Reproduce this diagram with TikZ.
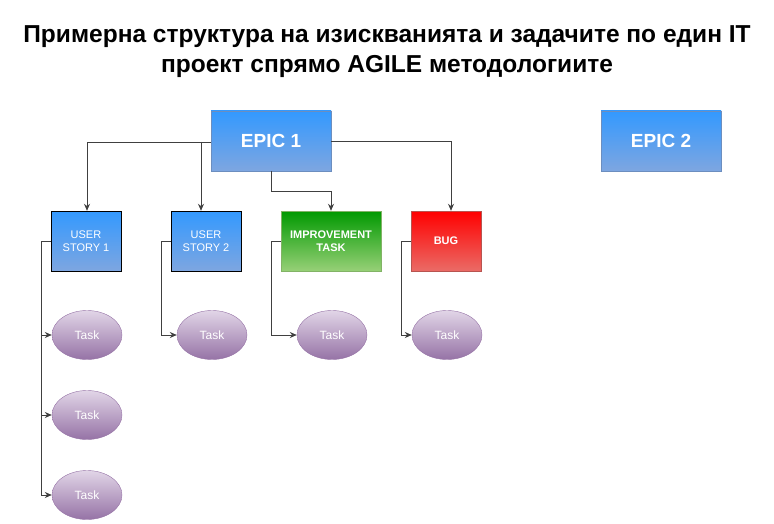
\documentclass[tikz,border=0pt]{standalone}
\usepackage{fontspec}
\setmainfont{Liberation Sans}
\usetikzlibrary{shapes.geometric,arrows.meta}
\definecolor{bt}{HTML}{3399FF}\definecolor{bb}{HTML}{7EA6E0}\definecolor{bd}{HTML}{6C8EBF}
\definecolor{gt}{HTML}{009900}\definecolor{gb}{HTML}{97D077}\definecolor{gd}{HTML}{82B366}
\definecolor{rt}{HTML}{FF0000}\definecolor{rb}{HTML}{EA6B66}\definecolor{rd}{HTML}{B85450}
\definecolor{pt}{HTML}{E1D5E7}\definecolor{pb}{HTML}{9673A6}
\begin{document}
\begin{tikzpicture}[x=1pt,y=-1pt,
 box/.style={rectangle,inner sep=0,text=white,align=center,font=\fontsize{11}{13}\selectfont},
 epic/.style={box,minimum width=120,minimum height=60,top color=bt,bottom color=bb,draw=bd,font=\fontsize{19}{21}\selectfont\bfseries},
 us/.style={box,minimum width=70,minimum height=60,top color=bt,bottom color=bb,draw=black},
 task/.style={ellipse,minimum width=70,minimum height=49,inner sep=0,top color=pt,bottom color=pb,draw=pb,text=white,font=\fontsize{12}{14}\selectfont},
 arr/.style={draw=black!75,line width=0.9,-{Stealth[length=7,width=6]}}]
\useasboundingbox (0,0) rectangle (774,524);
\node[font=\fontsize{24.5}{30}\selectfont\bfseries,align=center] (title) at (387,52) {Примерна структура на изискванията и задачите по един IT\\проект спрямо AGILE методологиите};
\node[epic] (e1) at (271,141) {EPIC 1};
\node[epic] (e2) at (661,141) {EPIC 2};
\node[us] (u1) at (86,241) {USER\\STORY 1};
\node[us] (u2) at (206,241) {USER\\STORY 2};
\node[box,minimum width=100,minimum height=60,top color=gt,bottom color=gb,draw=gd,font=\fontsize{11}{13}\selectfont\bfseries] (im) at (331,241) {IMPROVEMENT\\TASK};
\node[box,minimum width=70,minimum height=60,top color=rt,bottom color=rb,draw=rd,font=\fontsize{11}{13}\selectfont\bfseries] (bug) at (446,241) {BUG};
\node[task] (t1) at (87,335) {Task};
\node[task] (t2) at (87,415) {Task};
\node[task] (t3) at (87,495) {Task};
\node[task] (t4) at (212,335) {Task};
\node[task] (t5) at (332,335) {Task};
\node[task] (t6) at (447,335) {Task};
\draw[arr] (e1.west |- 0,142) -| (u1.north -| 87,0);
\draw[arr] (201,142) -- (u2.north -| 201,0);
\draw[arr] (e1.south) -- (271,191) -| (im.north);
\draw[arr] (e1.east |- 0,141) -| (bug.north -| 451,0);
\foreach \t in {t1,t2,t3} \draw[arr] (u1.west) -- (41,241) |- (\t.west);
\draw[arr] (u2.west) -- (161,241) |- (t4.west);
\draw[arr] (im.west) -- (271,241) |- (t5.west);
\draw[arr] (bug.west) -- (401,241) |- (t6.west);
\end{tikzpicture}
\end{document}
